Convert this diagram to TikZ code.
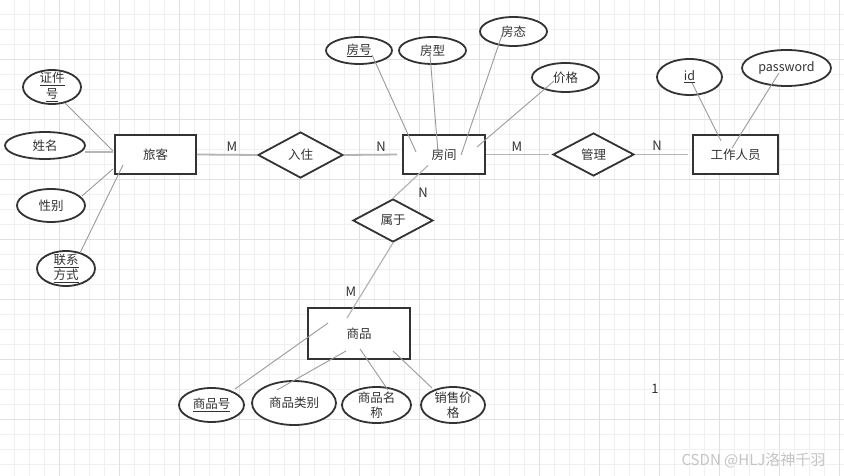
\documentclass[tikz,border=0pt]{standalone}
\usepackage{fontspec}
\setmainfont{Noto Sans CJK SC}
\usepackage{xcolor}
\usepackage{tikz}
\usetikzlibrary{shapes.geometric}

\definecolor{inkgray}{HTML}{333333}
\definecolor{relgray}{HTML}{B5B5B5}
\definecolor{attrgray}{HTML}{9A9A9A}
\definecolor{gridminor}{HTML}{F0F0F0}
\definecolor{gridmajor}{HTML}{E0E0E0}
\definecolor{wmgray}{HTML}{C4C4C4}

\begin{document}
\begin{tikzpicture}[x=1pt, y=-1pt,
  font=\fontsize{12.5}{15.5}\selectfont, text=inkgray,
  entity/.style={rectangle, draw=inkgray, line width=1.8pt, fill=white, inner sep=0pt},
  relation/.style={diamond, draw=inkgray, line width=1.8pt, fill=white, inner sep=0pt},
  attr/.style={ellipse, draw=inkgray, line width=1.8pt, fill=white, inner xsep=0pt, inner ysep=-12pt, align=center},
  relline/.style={relgray, line width=1.8pt},
  attrline/.style={attrgray, line width=0.9pt},
  card/.style={font=\fontsize{13}{15}\selectfont}]
  \useasboundingbox[fill=white] (0,0) rectangle (844,476);

  % Background grid
  \foreach \gx in {14.5,29.5,...,839.5}
    \draw[gridminor, line width=1pt] (\gx,0) -- (\gx,476);
  \foreach \gy in {14.5,29.5,...,474.5}
    \draw[gridminor, line width=1pt] (0,\gy) -- (844,\gy);
  \foreach \gx in {59.5,119.5,...,839.5}
    \draw[gridmajor, line width=1pt] (\gx,0) -- (\gx,476);
  \foreach \gy in {59.5,119.5,...,419.5}
    \draw[gridmajor, line width=1pt] (0,\gy) -- (844,\gy);

  % Entities
  \node[entity, minimum width=81pt, minimum height=39pt] (guest) at (155.5,154.5) {旅客};
  \node[entity, minimum width=82pt, minimum height=39pt] (room) at (444,154.5) {房间};
  \node[entity, minimum width=85pt, minimum height=39pt] (staff) at (735.5,154.5) {工作人员};
  \node[entity, minimum width=102pt, minimum height=51pt] (goods) at (359,333.5) {商品};

  % Relationships
  \node[relation, minimum width=85pt, minimum height=46pt] (checkin) at (300.5,155) {入住};
  \node[relation, minimum width=81pt, minimum height=43pt] (manage) at (593.5,154.5) {管理};
  \node[relation, minimum width=80pt, minimum height=43pt] (belong) at (393,220.5) {属于};

  % Attributes of guest
  \node[attr, minimum width=58pt, minimum height=34pt] (idno) at (52,87) {\underline{证件}\\\underline{号}};
  \node[attr, minimum width=80pt, minimum height=27pt] (gname) at (45,145.5) {姓名};
  \node[attr, minimum width=68pt, minimum height=33pt] (gender) at (51,205.5) {性别};
  \node[attr, minimum width=58pt, minimum height=35pt] (contact) at (66,268.5) {\underline{联系}\\\underline{方式}};

  % Attributes of room
  \node[attr, minimum width=66pt, minimum height=27pt] (rno) at (359,50.5) {\underline{房号}};
  \node[attr, minimum width=67pt, minimum height=27pt] (rtype) at (432.5,50.5) {房型};
  \node[attr, minimum width=67pt, minimum height=29pt] (rstate) at (513.5,31.5) {房态};
  \node[attr, minimum width=67pt, minimum height=29pt] (rprice) at (565.5,77.5) {价格};

  % Attributes of staff
  \node[attr, minimum width=65pt, minimum height=36pt] (sid) at (689.5,77) {\underline{id}};
  \node[attr, minimum width=89pt, minimum height=36pt] (spw) at (786.5,68) {password};

  % Attributes of goods
  \node[attr, minimum width=65pt, minimum height=34pt] (gno) at (211.5,405) {\underline{商品号}};
  \node[attr, minimum width=84pt, minimum height=44pt] (gtype) at (294,403) {商品类别};
  \node[attr, minimum width=69pt, minimum height=36pt] (gnm) at (376.5,405) {商品名\\称};
  \node[attr, minimum width=64pt, minimum height=36pt] (gprice) at (453,405) {销售价\\格};

  % Relationship lines
  \draw[relline] (guest.east) -- (checkin.west);
  \draw[relline, shorten >=5pt] (checkin.east) -- (room.west);
  \draw[relline, shorten >=3pt] (room.east) -- (manage.west);
  \draw[relline, shorten >=4pt] (manage.east) -- (staff.west);
  \draw[relline, line width=1.2pt] ([shift={(-16,11)}]room.center) -- (belong.north);
  \draw[relline, line width=1.2pt] (belong.south) -- ([shift={(-12,-15.5)}]goods.center);

  % Attribute lines
  \draw[attrline] ([shift={(13,16)}]idno.center) -- ([shift={(-42.5,-3.5)}]guest.center);
  \draw[relline] ([shift={(40,6.5)}]gname.center) -- ([shift={(-42.5,-2.5)}]guest.center);
  \draw[attrline] ([shift={(31,-9.5)}]gender.center) -- ([shift={(-42.5,14.5)}]guest.center);
  \draw[attrline] ([shift={(14,-15.5)}]contact.center) -- ([shift={(-32.5,10.5)}]guest.center);

  \draw[attrline] ([shift={(13,4.5)}]rno.center) -- ([shift={(-28,-2.5)}]room.center);
  \draw[attrline] ([shift={(-2.5,4.5)}]rtype.center) -- ([shift={(-6,-2.5)}]room.center);
  \draw[attrline] ([shift={(-11.5,3.5)}]rstate.center) -- ([shift={(17,0.5)}]room.center);
  \draw[attrline] ([shift={(-11.5,3.5)}]rprice.center) -- ([shift={(33,-7.5)}]room.center);

  \draw[attrline] ([shift={(2.5,6)}]sid.center) -- ([shift={(-14.5,-13.5)}]staff.center);
  \draw[attrline] ([shift={(-7.5,5)}]spw.center) -- ([shift={(-3.5,-6.5)}]staff.center);

  \draw[attrline] ([shift={(23.5,-16)}]gno.center) -- ([shift={(-31,-10.5)}]goods.center);
  \draw[attrline] ([shift={(-17,-13)}]gtype.center) -- ([shift={(-13,17.5)}]goods.center);
  \draw[attrline] ([shift={(11.5,-15)}]gnm.center) -- ([shift={(1,15.5)}]goods.center);
  \draw[attrline] ([shift={(-21,-17)}]gprice.center) -- ([shift={(34,17.5)}]goods.center);

  % Cardinalities
  \node[card] (c1) at (232,147) {M};
  \node[card] (c2) at (381,147) {N};
  \node[card] (c3) at (517,147) {M};
  \node[card] (c4) at (657,146) {N};
  \node[card] (c5) at (423,193) {N};
  \node[card] (c6) at (351,292) {M};

  % Stray text and watermark
  \node[card] (one) at (655,389) {1};
  \node[anchor=east, text=wmgray, font=\fontsize{15}{18}\selectfont] (wm) at (829,460) {CSDN @HLJ洛神千羽};
\end{tikzpicture}
\end{document}
